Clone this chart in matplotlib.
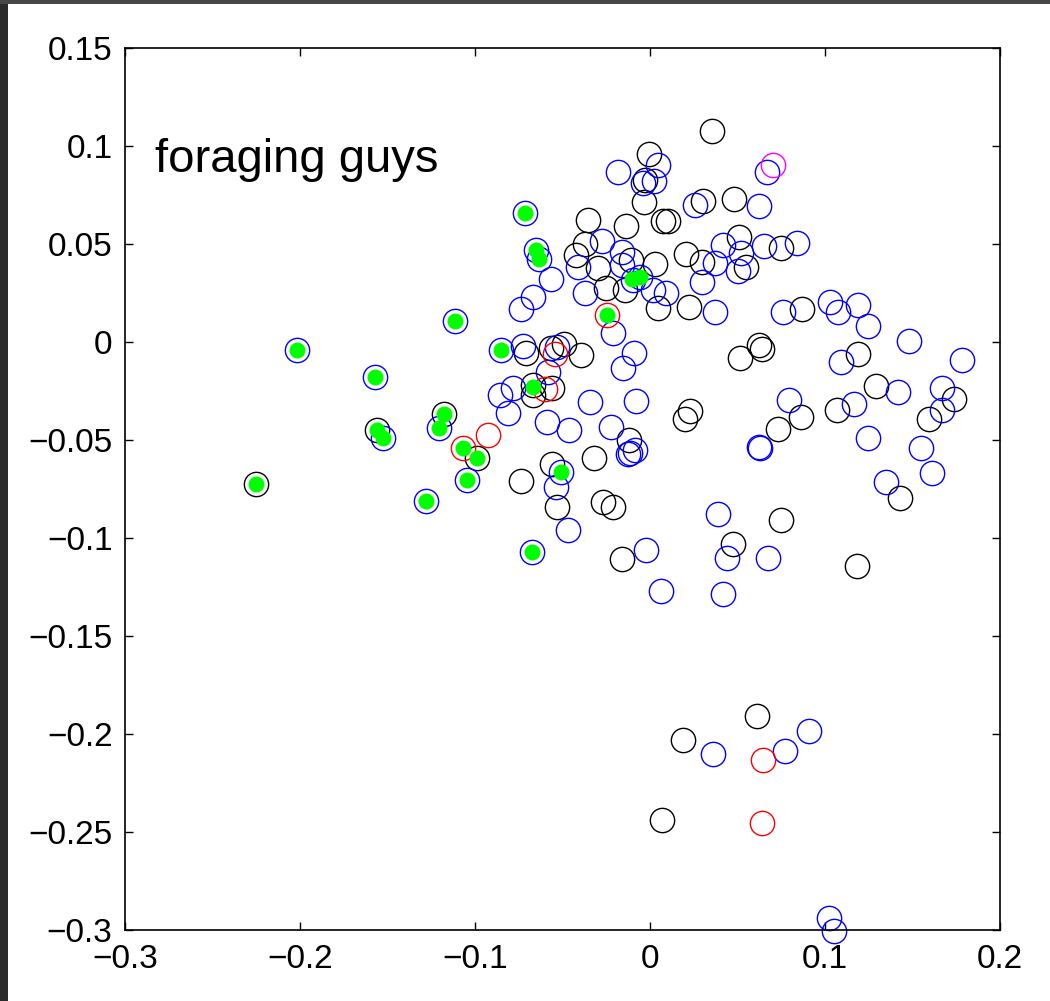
import matplotlib
matplotlib.use("Agg")
import matplotlib.pyplot as plt
from matplotlib.patches import Rectangle

plt.rcParams['font.family'] = ['Liberation Sans', 'DejaVu Sans']

# ---------------------- data ----------------------
black_x = [-0.2251, -0.1560, -0.1177, -0.0989, -0.0669, -0.0669, -0.0709, -0.0566, -0.0491,
           -0.0394, -0.0560, -0.0737, -0.0560, -0.0531, -0.0320, -0.0269, -0.0211, -0.0160,
           -0.0120, -0.0354, -0.0371, -0.0423, -0.0297, -0.0109, 0.0029, -0.0251, -0.0143,
           0.0046, -0.0137, 0.0074, 0.0103, -0.0006, -0.0029, -0.0034, 0.0303, 0.0480,
           0.0354, 0.0206, 0.0297, 0.0509, 0.0549, 0.0749, 0.0223, 0.0869, 0.0514, 0.0623,
           0.0640, 0.0229, 0.0200, 0.0863, 0.0731, 0.1069, 0.1189, 0.1291, 0.1737, 0.1594,
           0.1429, 0.0749, 0.0474, 0.1183, 0.0611, 0.0189, 0.0069]
black_y = [-0.0724, -0.0449, -0.0367, -0.0592, -0.0219, -0.0270, -0.0056, -0.0031, -0.0010,
           -0.0066, -0.0235, -0.0709, -0.0622, -0.0842, -0.0592, -0.0816, -0.0842, -0.1107,
           -0.0500, 0.0622, 0.0500, 0.0444, 0.0378, 0.0418, 0.0398, 0.0276, 0.0265,
           0.0173, 0.0592, 0.0617, 0.0617, 0.0959, 0.0827, 0.0714, 0.0719, 0.0730,
           0.1077, 0.0449, 0.0408, 0.0536, 0.0383, 0.0480, 0.0179, 0.0168, -0.0082, -0.0015,
           -0.0036, -0.0352, -0.0393, -0.0383, -0.0444, -0.0347, -0.0061, -0.0224, -0.0291, -0.0393,
           -0.0796, -0.0908, -0.1031, -0.1143, -0.1908, -0.2031, -0.2439]

blue_x = [-0.2017, -0.1571, -0.1526, -0.1206, -0.1046, -0.1280, -0.1114, -0.0851, -0.0714,
          -0.0651, -0.0634, -0.0566, -0.0669, -0.0737, -0.0726, -0.0531, -0.0583, -0.0783,
          -0.0857, -0.0811, -0.0589, -0.0463, -0.0343, -0.0509, -0.0537, -0.0674, -0.0469,
          -0.0023, 0.0063, -0.0211, -0.0091, -0.0154, -0.0080, -0.0223, -0.0114, -0.0086,
          -0.0126, -0.0411, -0.0274, -0.0160, -0.0160, -0.0097, -0.0057, 0.0017, 0.0091,
          -0.0371, -0.0183, 0.0046, -0.0040, 0.0023, 0.0257, 0.0623, 0.0669, 0.0371, 0.0760,
          0.0371, 0.0417, 0.0520, 0.0503, 0.0297, 0.0651, 0.0840, 0.1029, 0.1074, 0.1189,
          0.1246, 0.1480, 0.1783, 0.1091, 0.1417, 0.1669, 0.1669, 0.1549, 0.1611, 0.1349,
          0.1246, 0.1166, 0.0794, 0.0629, 0.0623, 0.0389, 0.0440, 0.0674, 0.0417, 0.0360,
          0.0771, 0.0909, 0.1023, 0.1051]
blue_y = [-0.0041, -0.0179, -0.0490, -0.0439, -0.0704, -0.0811, 0.0107, -0.0041, 0.0658,
          0.0469, 0.0423, 0.0321, 0.0230, 0.0168, -0.0020, -0.0026, -0.0153, -0.0235,
          -0.0270, -0.0362, -0.0408, -0.0449, -0.0306, -0.0663, -0.0740, -0.1071, -0.0959,
          -0.1061, -0.1270, 0.0046, -0.0056, -0.0133, -0.0301, -0.0434, -0.0566, -0.0551,
          -0.0571, 0.0383, 0.0515, 0.0459, 0.0393, 0.0316, 0.0332, 0.0265, 0.0250,
          0.0250, 0.0867, 0.0903, 0.0811, 0.0821, 0.0699, 0.0694, 0.0867, 0.0153, 0.0153,
          0.0403, 0.0495, 0.0454, 0.0362, 0.0306, 0.0490, 0.0505, 0.0204, 0.0153, 0.0189,
          0.0082, 0.0005, -0.0092, -0.0102, -0.0255, -0.0235, -0.0347, -0.0541, -0.0668, -0.0714,
          -0.0490, -0.0316, -0.0296, -0.0541, -0.0536, -0.0878, -0.1102, -0.1102, -0.1286, -0.2102,
          -0.2087, -0.1985, -0.2939, -0.3005]

red_x = [-0.1069, -0.0926, -0.0543, -0.0600, -0.0246, 0.0646, 0.0640]
red_y = [-0.0541, -0.0474, -0.0061, -0.0240, 0.0138, -0.2133, -0.2454]

magenta_x = [0.0703]
magenta_y = [0.0903]

green_x = [-0.2251, -0.2017, -0.1571, -0.1560, -0.1526, -0.1177, -0.1206, -0.1069, -0.0989,
           -0.1046, -0.1280, -0.1114, -0.0851, -0.0714, -0.0651, -0.0634, -0.0669, -0.0509,
           -0.0674, -0.0246, -0.0103, -0.0057]
green_y = [-0.0724, -0.0041, -0.0179, -0.0449, -0.0490, -0.0367, -0.0439, -0.0541, -0.0592,
           -0.0704, -0.0811, 0.0107, -0.0041, 0.0658, 0.0469, 0.0423, -0.0230, -0.0663,
           -0.1071, 0.0138, 0.0321, 0.0332]

x_ticks = [-0.3, -0.2, -0.1, 0, 0.1, 0.2]
x_labels = ['\u22120.3', '\u22120.2', '\u22120.1', '0', '0.1', '0.2']
y_ticks = [0.15, 0.1, 0.05, 0, -0.05, -0.1, -0.15, -0.2, -0.25, -0.3]
y_labels = ['0.15', '0.1', '0.05', '0', '\u22120.05', '\u22120.1', '\u22120.15',
            '\u22120.2', '\u22120.25', '\u22120.3']
# ----------------------------------------------------------------------

fig = plt.figure(figsize=(10.5, 10.01), dpi=100)
fig.patch.set_facecolor('white')
# dark screenshot frame on the left and top edges
fig.patches.append(Rectangle((0, 0), 8 / 1050, 1, transform=fig.transFigure,
                             facecolor='#2b2b2b', edgecolor='none', zorder=-1))
fig.patches.append(Rectangle((0, 1 - 4 / 1001), 1, 4 / 1001, transform=fig.transFigure,
                             facecolor='#474747', edgecolor='none', zorder=-1))

ax = fig.add_axes([125 / 1050, 71 / 1001, 875 / 1050, 882 / 1001])

ms = 17.5
ax.plot(black_x, black_y, 'o', ms=ms, mfc='none', mec='black', mew=1.0, clip_on=False)
ax.plot(blue_x, blue_y, 'o', ms=ms, mfc='none', mec='#0000ff', mew=1.0, clip_on=False)
ax.plot(red_x, red_y, 'o', ms=ms, mfc='none', mec='#ff0000', mew=1.0, clip_on=False)
ax.plot(magenta_x, magenta_y, 'o', ms=ms, mfc='none', mec='#ff00ff', mew=1.0, clip_on=False)
ax.plot(green_x, green_y, 'o', ms=11.5, mfc='#00ff00', mec='#00ff00', mew=0, clip_on=False)

ax.text(-0.283, 0.093, 'foraging guys', fontsize=34, va='center', ha='left')

ax.set_xlim(-0.3, 0.2)
ax.set_ylim(-0.3, 0.15)
ax.set_xticks(x_ticks)
ax.set_xticklabels(x_labels)
ax.set_yticks(y_ticks)
ax.set_yticklabels(y_labels)
ax.tick_params(direction='in', length=6, width=1, labelsize=24,
               top=True, right=True)
ax.tick_params(axis='x', pad=10)
ax.tick_params(axis='y', pad=9)
for sp in ax.spines.values():
    sp.set_linewidth(1.2)

fig.savefig('out.png', dpi=100)
